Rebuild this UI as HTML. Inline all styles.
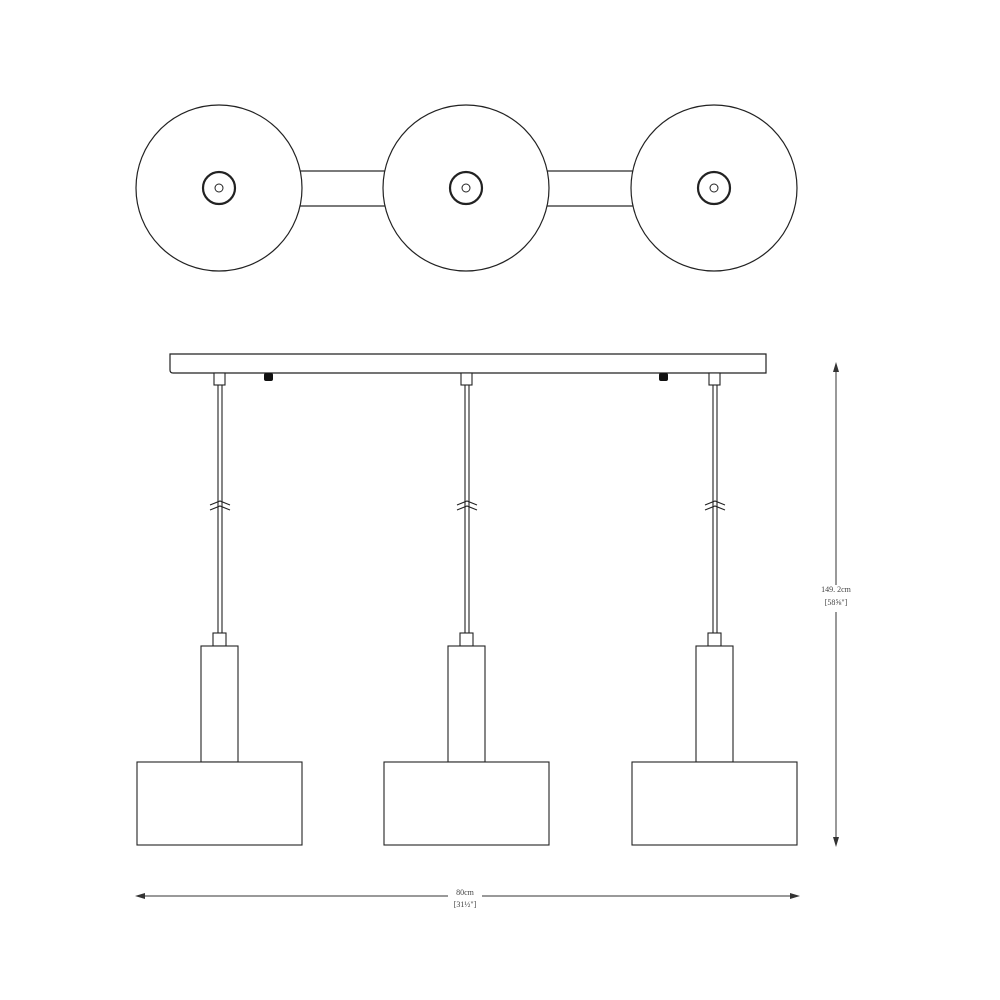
<!DOCTYPE html>
<html><head><style>body{margin:0;background:#fff}svg{display:block}</style></head><body>
<svg width="1000" height="1000" viewBox="0 0 1000 1000" xmlns="http://www.w3.org/2000/svg" font-family="Liberation Serif, serif">
<g fill="#fff" stroke="#222" stroke-width="1.2">
<rect x="300" y="171" width="90" height="35"/>
<rect x="545" y="171" width="95" height="35"/>
<circle cx="219" cy="188" r="83"/><circle cx="466" cy="188" r="83"/><circle cx="714" cy="188" r="83"/>
</g>
<g fill="none" stroke="#222">
<circle cx="219" cy="188" r="16" stroke-width="2.2"/><circle cx="219" cy="188" r="4"/>
<circle cx="466" cy="188" r="16" stroke-width="2.2"/><circle cx="466" cy="188" r="4"/>
<circle cx="714" cy="188" r="16" stroke-width="2.2"/><circle cx="714" cy="188" r="4"/>
</g>
<path d="M170 354 H766 V373 H173 Q170 373 170 370 Z" fill="#fff" stroke="#222" stroke-width="1.2"/>
<rect x="264" y="373" width="9" height="8" rx="2" fill="#111"/>
<rect x="659" y="373" width="9" height="8" rx="2" fill="#111"/>
<g fill="#fff" stroke="#222" stroke-width="1.1">
<g id="p">
<rect x="214" y="373" width="11" height="12"/>
<line x1="218" y1="385" x2="218" y2="634"/><line x1="222" y1="385" x2="222" y2="634"/>
<path d="M210 505 l10 -4 l10 4 M210 510 l10 -4 l10 4" fill="none"/>
<rect x="213" y="633" width="13" height="13"/>
<rect x="201" y="646" width="37" height="116"/>
<rect x="137" y="762" width="165" height="83"/>
</g>
<use href="#p" transform="translate(247,0)"/>
<use href="#p" transform="translate(495,0)"/>
</g>
<g stroke="#333" stroke-width="1">
<line x1="836" y1="364" x2="836" y2="585"/><line x1="836" y1="612" x2="836" y2="845"/>
<line x1="137" y1="896" x2="448" y2="896"/><line x1="482" y1="896" x2="798" y2="896"/>
</g>
<g fill="#333">
<path d="M836 362 l-3 10 h6z"/><path d="M836 847 l-3 -10 h6z"/>
<path d="M135 896 l10 -3 v6z"/><path d="M800 896 l-10 -3 v6z"/>
</g>
<g font-size="8" fill="#444" text-anchor="middle">
<text x="836" y="592">149. 2cm</text><text x="836" y="605">[58⅝"]</text>
<text x="465" y="895">80cm</text><text x="465" y="907">[31½"]</text>
</g>
</svg>
</body></html>
